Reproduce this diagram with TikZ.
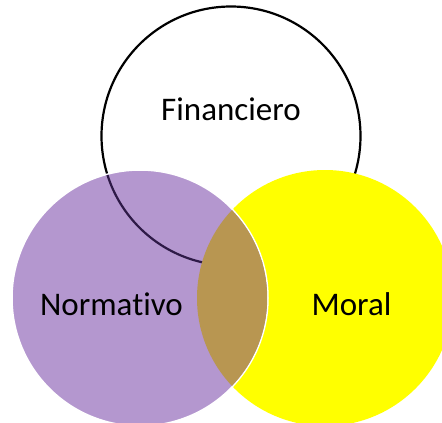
\documentclass[tikz,border=0pt]{standalone}
\usepackage{fontspec}
\setmainfont{Carlito}[Ligatures={NoCommon}]
\definecolor{vpurple}{HTML}{B497CF}
\definecolor{volive}{HTML}{B89651}
\definecolor{vdark}{HTML}{2E1A47}
\definecolor{vyellow}{HTML}{FFFF00}
\begin{document}
\begin{tikzpicture}[x=1pt,y=-1pt,
  setc/.style={circle, inner sep=0pt, outer sep=0pt, minimum size=256pt},
  lbl/.style={inner sep=0pt, font=\fontsize{33}{36}\selectfont, text=black}]
\clip (0,0) rectangle (442,423);
\fill[white] (0,0) rectangle (442,423);
% Financiero circle
\node[setc, minimum size=259pt, draw=black, line width=2.2pt, fill=white] (fin) at (231,136) {};
% Moral circle
\node[setc, fill=vyellow] (mor) at (325,298) {};
% Normativo circle
\node[setc, fill=vpurple, draw=white, line width=1.5pt] (norm) at (140,298) {};
\begin{scope}
  \clip (norm.center) circle (127.2);
  \draw[vdark, line width=2.2pt] (fin.center) circle (129.5);
  \fill[volive] (mor.center) circle (128);
\end{scope}
% labels
\node[lbl, anchor=base] (tfin) at (231,120) {Financiero};
\node[lbl, anchor=base] (tnorm) at (111.5,315) {Normativo};
\node[lbl, anchor=base] (tmor) at (351.5,315) {Moral};
\end{tikzpicture}
\end{document}
